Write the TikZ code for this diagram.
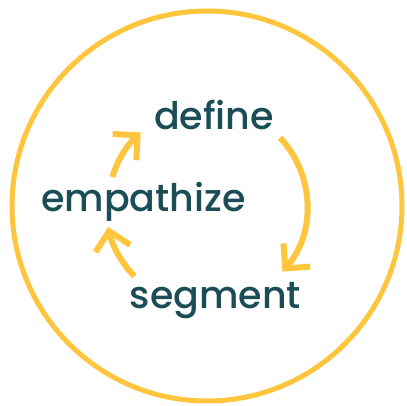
\documentclass[tikz,border=0pt]{standalone}
\usepackage{fontspec}
\setmainfont{Poppins}[UprightFont=* Medium]
\usetikzlibrary{arrows.meta}
\definecolor{sun}{HTML}{FFC53D}
\definecolor{deepteal}{HTML}{1B4D57}
\tikzstyle{stage} = [text=deepteal, inner sep=0pt, anchor=base,
    font=\fontsize{38}{40}\selectfont]
\tikzstyle{turn} = [draw=sun, line width=6pt,
    -{Straight Barb[angle=90:25pt, sharp]}]

\begin{document}
\begin{tikzpicture}[x=1pt, y=1pt]
    \useasboundingbox (-207,-200) rectangle (200,206);
    % Frame
    \draw[sun, line width=5pt] (0,0) circle[radius=195];
    % Place nodes
    \node [stage] (define) at (7,76) {define};
    \node [stage] (empathize) at (-63.5,-6) {empathize};
    \node [stage] (segment) at (8.5,-103) {segment};
    % Arc ends
    \coordinate (defout) at (43:100);
    \coordinate (segout) at (224:101);
    \coordinate (empout) at (163:99);
    % Draw edges
    \draw [turn] (defout) arc[start angle=43, end angle=-41, radius=100];
    \draw [turn] (segout) arc[start angle=224, end angle=192, radius=101];
    \draw [turn] (empout) arc[start angle=163, end angle=132, radius=99];
\end{tikzpicture}
\end{document}
